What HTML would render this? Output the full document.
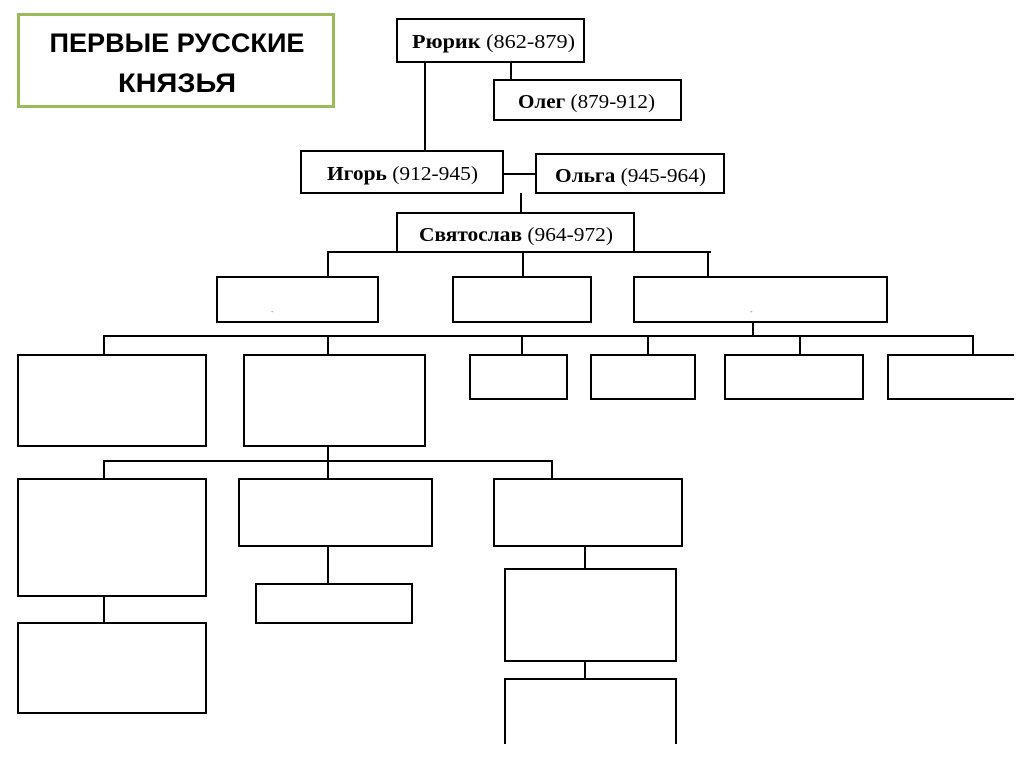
<!DOCTYPE html>
<html><head><meta charset="utf-8"><style>
html,body{margin:0;padding:0;background:#fff;}
svg{display:block;}
.t{font-family:"Liberation Serif",serif;font-size:20px;fill:#000;}
.h{font-family:"Liberation Sans","DejaVu Sans",sans-serif;font-weight:bold;font-size:27px;fill:#000;}
</style></head><body>
<svg width="1024" height="767" viewBox="0 0 1024 767" xmlns="http://www.w3.org/2000/svg">
<rect x="0" y="0" width="1024" height="767" fill="#fff"/>
<rect x="18.5" y="14.5" width="315" height="92" fill="#fff" stroke="#9bbb59" stroke-width="3"/>
<text class="h" x="177" y="52" text-anchor="middle" textLength="255" lengthAdjust="spacingAndGlyphs">ПЕРВЫЕ РУССКИЕ</text>
<text class="h" x="177" y="92" text-anchor="middle" textLength="118" lengthAdjust="spacingAndGlyphs">КНЯЗЬЯ</text>

<g stroke="#000" stroke-width="2" fill="#fff">
<line x1="511" y1="62" x2="511" y2="80"/>
<line x1="425" y1="62" x2="425" y2="151"/>
<line x1="503" y1="174" x2="536" y2="174"/>
<line x1="521" y1="193" x2="521" y2="213"/>
<polyline points="328,277 328,252 711,252" fill="none"/>
<line x1="523" y1="252" x2="523" y2="277"/>
<line x1="708" y1="252" x2="708" y2="277"/>
<line x1="753" y1="322" x2="753" y2="336"/>
<polyline points="104,355 104,336 973,336 973,355" fill="none"/>
<line x1="328" y1="336" x2="328" y2="355"/>
<line x1="522" y1="336" x2="522" y2="355"/>
<line x1="648" y1="336" x2="648" y2="355"/>
<line x1="800" y1="336" x2="800" y2="355"/>
<line x1="328" y1="446" x2="328" y2="479"/>
<polyline points="104,479 104,461 552,461 552,479" fill="none"/>
<line x1="104" y1="596" x2="104" y2="623"/>
<line x1="328" y1="546" x2="328" y2="584"/>
<line x1="585" y1="546" x2="585" y2="569"/>
<line x1="585" y1="661" x2="585" y2="679"/>

<rect x="397" y="19" width="187" height="43"/>
<rect x="494" y="80" width="187" height="40"/>
<rect x="301" y="151" width="202" height="42"/>
<rect x="536" y="154" width="188" height="39"/>
<rect x="397" y="213" width="237" height="39"/>
<rect x="217" y="277" width="161" height="45"/>
<rect x="453" y="277" width="138" height="45"/>
<rect x="634" y="277" width="253" height="45"/>
<rect x="18" y="355" width="188" height="91"/>
<rect x="244" y="355" width="181" height="91"/>
<rect x="470" y="355" width="97" height="44"/>
<rect x="591" y="355" width="104" height="44"/>
<rect x="725" y="355" width="138" height="44"/>
<polyline points="1014,355 888,355 888,399 1014,399"/>
<rect x="18" y="479" width="188" height="117"/>
<rect x="239" y="479" width="193" height="67"/>
<rect x="494" y="479" width="188" height="67"/>
<rect x="18" y="623" width="188" height="90"/>
<rect x="256" y="584" width="156" height="39"/>
<rect x="505" y="569" width="171" height="92"/>
<polyline points="505,744 505,679 676,679 676,744"/>
</g>

<text class="t" x="412" y="48" textLength="163" lengthAdjust="spacingAndGlyphs"><tspan font-weight="bold">Рюрик</tspan>  (862-879)</text>
<text class="t" x="518" y="108" textLength="137" lengthAdjust="spacingAndGlyphs"><tspan font-weight="bold">Олег</tspan> (879-912)</text>
<text class="t" x="327" y="180" textLength="151" lengthAdjust="spacingAndGlyphs"><tspan font-weight="bold">Игорь</tspan> (912-945)</text>
<text class="t" x="555" y="182" textLength="151" lengthAdjust="spacingAndGlyphs"><tspan font-weight="bold">Ольга</tspan> (945-964)</text>
<text class="t" x="419" y="241" textLength="194" lengthAdjust="spacingAndGlyphs"><tspan font-weight="bold">Святослав</tspan> (964-972)</text>
<text x="271" y="314" font-size="8" font-family="Liberation Sans,sans-serif" fill="#777">-</text>
<text x="750" y="314" font-size="8" font-family="Liberation Sans,sans-serif" fill="#777">-</text>
</svg>
</body></html>
